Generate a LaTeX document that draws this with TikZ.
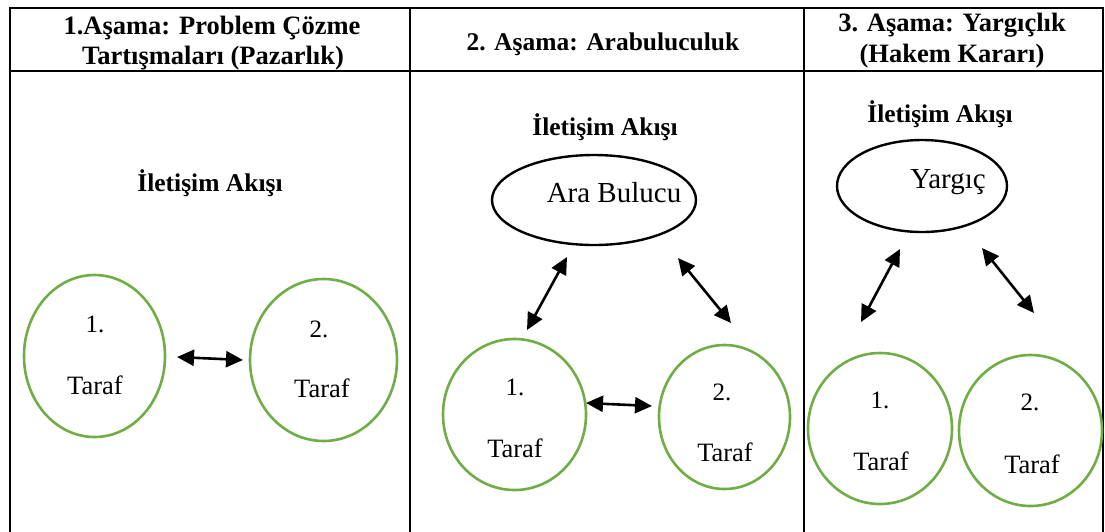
\documentclass[tikz,border=0pt]{standalone}
\usepackage{fontspec}
\setmainfont{Liberation Serif}
\usetikzlibrary{shapes.geometric,arrows.meta}
\definecolor{partygreen}{HTML}{70AD47}
\tikzset{
  grid/.style={line width=2.6pt, line cap=rect},
  head/.style={font=\fontsize{25.5}{30}\selectfont\bfseries, anchor=base, inner sep=0pt},
  bighead/.style={head, font=\fontsize{26.5}{30}\selectfont\bfseries},
  body/.style={font=\fontsize{26.5}{30}\selectfont, anchor=base, inner sep=0pt},
  numeral/.style={body, font=\fontsize{25}{30}\selectfont},
  label/.style={body, font=\fontsize{29}{34}\selectfont},
  party/.style={ellipse, draw=partygreen, line width=2.6pt, inner sep=0pt},
  third/.style={ellipse, draw=black, line width=2.4pt, inner sep=0pt},
  flow/.style={line width=2.6pt, {Triangle[length=17pt,width=16pt]}-{Triangle[length=17pt,width=16pt]}}
}
\begin{document}
\begin{tikzpicture}[x=1pt,y=-1pt]
\useasboundingbox (0,0) rectangle (1105,531);
\fill[white] (0,0) rectangle (1105,531);

% table frame: header row and three columns, open at the bottom
\draw[grid] (10,531) -- (10,8) -- (1103,8) -- (1103,531);
\draw[grid] (10,71) -- (1103,71);
\draw[grid] (410,8) -- (410,531);
\draw[grid] (804,8) -- (804,531);

% column headings
\node[bighead] (h1a) at (212,34) {1.Aşama: Problem Çözme};
\node[bighead] (h1b) at (213,64) {Tartışmaları (Pazarlık)};
\node[head] (h2) at (603,50) {2. Aşama: Arabuluculuk};
\node[bighead] (h3a) at (952,31) {3. Aşama: Yargıçlık};
\node[bighead] (h3b) at (952,62) {(Hakem Kararı)};

% stage 1: the two parties talk directly
\node[head] (t1) at (210,191) {İletişim Akışı};
\node[party, minimum width=141pt, minimum height=162pt] (a1) at (94.5,356) {};
\node[party, minimum width=147pt, minimum height=162pt] (a2) at (323.5,360) {};
\node[numeral] (a1n) at (95,332) {1.};
\node[body] (a1t) at (95,394) {Taraf};
\node[numeral] (a2n) at (319,337) {2.};
\node[body] (a2t) at (322,397) {Taraf};
\coordinate (a12s) at (177,357);
\coordinate (a12e) at (243,360);
\draw[flow] (a12s) -- (a12e);

% stage 2: mediator between the parties
\node[head] (t2) at (605,135) {İletişim Akışı};
\node[third, minimum width=204pt, minimum height=90pt] (m) at (594,200) {};
\node[label] (mt) at (614,202) {Ara Bulucu};
\node[party, minimum width=143pt, minimum height=151pt] (b1) at (514.5,414.5) {};
\node[party, minimum width=131pt, minimum height=144pt] (b2) at (724.5,417) {};
\node[numeral] (b1n) at (515,395) {1.};
\node[body] (b1t) at (515,457) {Taraf};
\node[numeral] (b2n) at (722,400) {2.};
\node[body] (b2t) at (725,461) {Taraf};
\coordinate (b12s) at (586,403);
\coordinate (b12e) at (652,406);
\coordinate (mb1s) at (527,330);
\coordinate (mb1e) at (567,257);
\coordinate (mb2s) at (678,258);
\coordinate (mb2e) at (731,323);
\draw[flow] (b12s) -- (b12e);
\draw[flow] (mb1s) -- (mb1e);
\draw[flow] (mb2s) -- (mb2e);

% stage 3: the judge decides
\node[head] (t3) at (940,122) {İletişim Akışı};
\node[third, minimum width=170pt, minimum height=92pt] (j) at (922,186) {};
\node[label] (jt) at (948,188) {Yargıç};
\node[party, minimum width=144pt, minimum height=151pt] (c1) at (880,428.5) {};
\node[party, minimum width=143pt, minimum height=151pt] (c2) at (1030.5,430.5) {};
\node[numeral] (c1n) at (880,408) {1.};
\node[body] (c1t) at (881,470) {Taraf};
\node[numeral] (c2n) at (1030,410) {2.};
\node[body] (c2t) at (1032,473) {Taraf};
\coordinate (jc1s) at (861,322);
\coordinate (jc1e) at (900,249);
\coordinate (jc2s) at (982,248);
\coordinate (jc2e) at (1034,313);
\draw[flow] (jc1s) -- (jc1e);
\draw[flow] (jc2s) -- (jc2e);
\end{tikzpicture}
\end{document}
